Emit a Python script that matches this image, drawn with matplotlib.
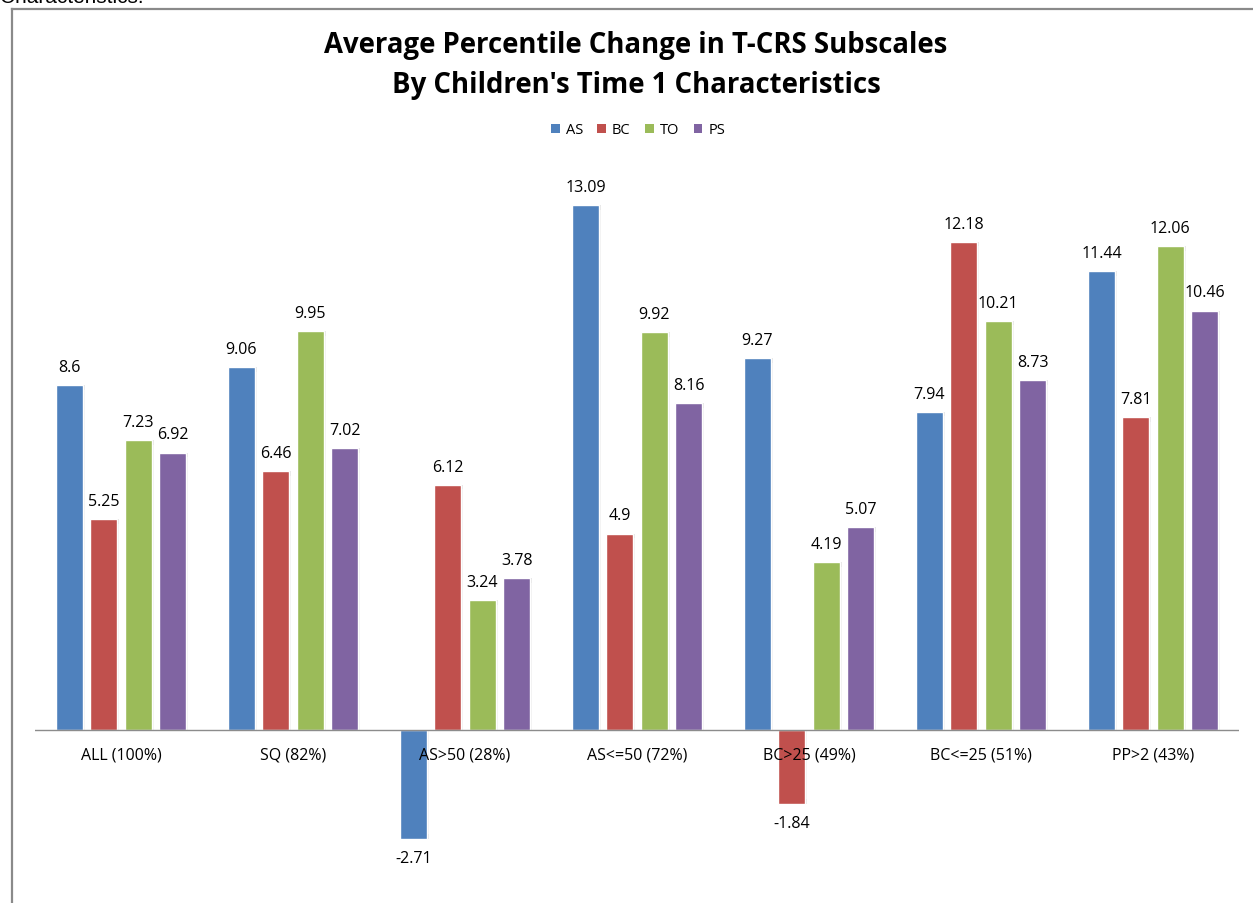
import matplotlib
matplotlib.use('Agg')
import matplotlib.pyplot as plt
import numpy as np
from matplotlib.lines import Line2D
from matplotlib.patches import Patch

categories = ['ALL (100%)', 'SQ (82%)', 'AS>50 (28%)', 'AS<=50 (72%)',
              'BC>25 (49%)', 'BC<=25 (51%)', 'PP>2 (43%)']
series = ['AS', 'BC', 'TO', 'PS']
as_vals = [8.6, 9.06, -2.71, 13.09, 9.27, 7.94, 11.44]
bc_vals = [5.25, 6.46, 6.12, 4.9, -1.84, 12.18, 7.81]
to_vals = [7.23, 9.95, 3.24, 9.92, 4.19, 10.21, 12.06]
ps_vals = [6.92, 7.02, 3.78, 8.16, 5.07, 8.73, 10.46]
colors = ['#4F81BD', '#C0504D', '#9BBB59', '#8064A2']

W, H = 1253, 904
plt.rcParams['font.family'] = ['Open Sans', 'DejaVu Sans']

fig = plt.figure(figsize=(W / 100, H / 100), dpi=100)

# axes placed in pixel terms: zero line at y=731, 40.1 px per unit
zero_y, ppu = 731, 40.1
ax_top, ax_bot = 160, 904
ax = fig.add_axes([35 / W, 1 - ax_bot / H, (1239 - 35) / W, (ax_bot - ax_top) / H])
ax.set_xlim(-0.5, len(categories) - 0.5)
ax.set_ylim(-(ax_bot - zero_y) / ppu, (zero_y - ax_top) / ppu)
ax.axis('off')

x = np.arange(len(categories))
slot = 0.2
width = slot * 0.78
data = [as_vals, bc_vals, to_vals, ps_vals]
for i, (vals, c) in enumerate(zip(data, colors)):
    pos = x + (i - 1.5) * slot
    vals = np.array(vals)
    # soft drop shadow behind each bar
    for k, a in zip([0.012, 0.007], [0.10, 0.14]):
        ax.bar(pos + k, vals, width=width, color='#7f7f7f', alpha=a,
               zorder=1, linewidth=0)
        ax.bar(pos + k, -np.sign(vals) * 0.12, bottom=vals, width=width,
               color='#7f7f7f', alpha=a, zorder=1, linewidth=0)
    ax.bar(pos, vals, width=width, color=c, edgecolor='white', linewidth=1.0, zorder=2)
    for xp, v in zip(pos, vals):
        off = 13 if v >= 0 else -14
        ax.annotate(f'{v:g}', (xp, v), xytext=(0, off), textcoords='offset points',
                    ha='center', va='center', fontsize=11.5, color='black', zorder=4)

ax.axhline(0, color='#8c8c8c', linewidth=1.0, zorder=3)
for xi, lab in zip(x, categories):
    ax.annotate(lab, (xi, 0), xytext=(0, -18), textcoords='offset points',
                ha='center', va='center', fontsize=11.5, color='black', zorder=5)

fig.text(636 / W, 1 - 65 / H,
         "Average Percentile Change in T-CRS Subscales\nBy Children's Time 1 Characteristics",
         ha='center', va='center', fontsize=19.8, fontweight='bold', linespacing=1.5)

handles = [Patch(facecolor=c, edgecolor='none') for c in colors]
fig.legend(handles, series, loc='center', bbox_to_anchor=(638 / W, 1 - 131 / H),
           ncol=4, frameon=False, fontsize=10.5, handlelength=0.6, handleheight=0.6,
           handletextpad=0.4, columnspacing=1.0)

# outer chart frame (top and left edges)
frame_kw = dict(color='#8a8a8a', linewidth=1.6, transform=fig.transFigure)
fig.add_artist(Line2D([12 / W, 1.01], [1 - 10 / H, 1 - 10 / H], **frame_kw))
fig.add_artist(Line2D([12 / W, 12 / W], [1 - 10 / H, -0.01], **frame_kw))

# tail of the preceding caption, cut off at the top edge
fig.text(0, 1 - 3 / H, 'Characteristics.', ha='left', va='baseline', fontsize=15,
         family=['Liberation Sans', 'DejaVu Sans'])

fig.savefig('out.png', dpi=100)
